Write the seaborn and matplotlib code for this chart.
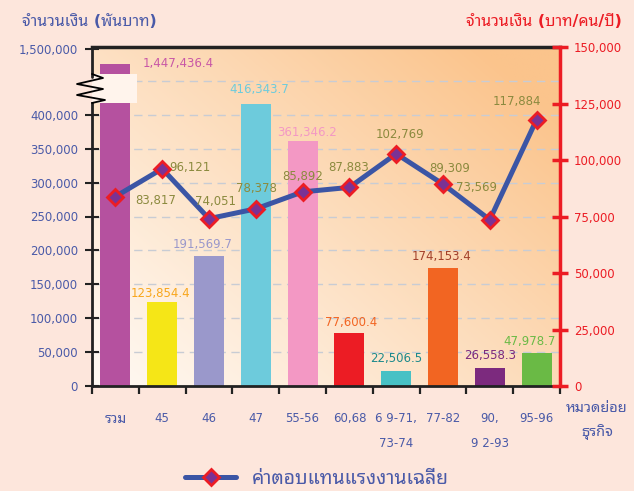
import numpy as np
import pandas as pd
import matplotlib
matplotlib.use('Agg')
import matplotlib.pyplot as plt
import seaborn as sns
from matplotlib.colors import to_rgb
from matplotlib.patches import Rectangle

# ข้อมูล
categories = ['รวม', '45', '46', '47', '55-56', '60,68', '6 9-71,\n73-74', '77-82', '90,\n9 2-93', '95-96']
amount = [1447436.4, 123854.4, 191569.7, 416343.7, 361346.2, 77600.4, 22506.5, 174153.4, 26558.3, 47978.7]
amount_labels = ['1,447,436.4', '123,854.4', '191,569.7', '416,343.7', '361,346.2',
                 '77,600.4', '22,506.5', '174,153.4', '26,558.3', '47,978.7']
wage = [83817, 96121, 74051, 78378, 85892, 87883, 102769, 89309, 73569, 117884]
wage_labels = ['83,817', '96,121', '74,051', '78,378', '85,892', '87,883', '102,769', '89,309', '73,569', '117,884']
left_ticks = [0, 50000, 100000, 150000, 200000, 250000, 300000, 350000, 400000, 1500000]
left_ticklabels = ['0', '50,000', '100,000', '150,000', '200,000', '250,000', '300,000', '350,000', '400,000', '1,500,000']
right_ticks = [0, 25000, 50000, 75000, 100000, 125000, 150000]
right_ticklabels = ['0', '25,000', '50,000', '75,000', '100,000', '125,000', '150,000']

bar_colors = ['#b5519f', '#f5e617', '#9a98cb', '#6dcbdc', '#f398c4', '#ec1c24', '#47c1c5', '#f26522', '#7c2a7e', '#6aba45']
label_colors = ['#c857a6', '#f8a61c', '#9a98cb', '#6dcbdc', '#f398c4', '#f26522', '#1d8a8c', '#a3402b', '#7c2a7e', '#6aba45']
bar_offsets = [(12, 0), (-2, 9), (-6, 12), (3, 14), (4, 9), (2, 11), (0, 12), (-1, 11), (0, 12), (-7, 12)]
line_offsets = [(40, -4), (28, 1), (6, 17), (1, 20), (0, 15), (-1, 20), (4, 19), (7, 16), (-13, 32), (-20, 18)]

BLUE = '#4a5aa8'
RED = '#ec1c24'

sns.set_style('ticks')
plt.rcParams['font.family'] = ['DejaVu Sans', 'Noto Sans Thai Looped']


# แกนซ้ายแบบตัดช่วง (ช่วง 420,000 - 1,400,000 ถูกบีบ)
def fwd(v):
    v = np.asarray(v, dtype=float)
    return np.where(v <= 420000, v,
                    np.where(v <= 1400000, 420000 + (v - 420000) * 36000 / 980000,
                             456000 + (v - 1400000) * 0.41))


def inv(m):
    m = np.asarray(m, dtype=float)
    return np.where(m <= 420000, m,
                    np.where(m <= 456000, 420000 + (m - 420000) * 980000 / 36000,
                             1400000 + (m - 456000) / 0.41))


fig = plt.figure(figsize=(6.34, 4.91), dpi=100, facecolor='#fde6dc')
rect = [92 / 634, 1 - 386 / 491, 468 / 634, 339 / 491]

# พื้นหลังไล่สี
bg = fig.add_axes(rect, zorder=0)
xx, yy = np.meshgrid(np.linspace(0, 1, 200), np.linspace(0, 1, 200))
t = np.clip(0.6 * xx + 0.5 * yy, 0, 1) ** 1.1
c0 = np.array(to_rgb('#fff9f3'))
c1 = np.array(to_rgb('#fbc48c'))
bg.imshow(c0 + (c1 - c0) * t[..., None], origin='lower', extent=[0, 1, 0, 1], aspect='auto')
bg.axis('off')

ax = fig.add_axes(rect, zorder=1)
ax.set_facecolor('none')

for f in np.arange(1, 10) / 10:
    ax.plot([0, 1], [f, f], transform=ax.transAxes, color='#c8ccd4', lw=1, dashes=(6, 4), zorder=0.5)

df = pd.DataFrame({'cat': categories, 'amount': amount})
sns.barplot(data=df, x='cat', y='amount', hue='cat', palette=dict(zip(categories, bar_colors)),
            legend=False, width=0.64, saturation=1, linewidth=0, edgecolor='none', ax=ax, zorder=2)
ax.set_yscale('function', functions=(fwd, inv))
ax.set_ylim(0, float(inv(500000)))
ax.set_xlim(-0.5, 9.5)

# ช่องว่างของแท่งที่ถูกตัด
ax.add_patch(Rectangle((-0.5, 418000), 0.97, 1410000 - 418000, facecolor='#fff4ec',
                       edgecolor='none', zorder=3))

for i, (v, s) in enumerate(zip(amount, amount_labels)):
    if i == 0:
        ax.annotate(s, (0.32, v), xytext=bar_offsets[i], textcoords='offset pixels',
                    ha='left', va='center', fontsize=8.5, color=label_colors[i], zorder=6)
    else:
        ax.annotate(s, (i, v), xytext=bar_offsets[i], textcoords='offset pixels',
                    ha='center', va='center', fontsize=8.5, color=label_colors[i], zorder=6)

ax.set_yticks(left_ticks)
ax.set_yticklabels(left_ticklabels)
ax.set_xticks(range(len(categories)))
ax.set_xticklabels(categories)
ax.set_xticks(np.arange(-0.5, len(categories), 1), minor=True)
ax.tick_params(axis='x', which='major', length=0, pad=19, labelsize=8.5, labelcolor=BLUE)
ax.tick_params(axis='x', which='minor', length=6, width=1.6, color='#222222', direction='out')
ax.tick_params(axis='y', which='major', direction='inout', length=10, width=1.5,
               color='#222222', labelsize=8.5, labelcolor=BLUE, pad=5)
ax.tick_params(axis='y', which='minor', length=0)
for lbl in ax.get_xticklabels():
    lbl.set_linespacing(2.2)
ax.get_xticklabels()[0].set_fontsize(10)
ax.set_xlabel('')
ax.set_ylabel('')

for side in ['left', 'bottom', 'top']:
    ax.spines[side].set_color('#222222')
    ax.spines[side].set_linewidth(2)
ax.spines['top'].set_linewidth(2.5)
ax.spines['right'].set_visible(False)
ax.spines['left'].set_bounds(0, 418000)
ax.plot([-0.5, -0.5], [1400000, float(inv(500000))], color='#222222', lw=2, clip_on=False, zorder=5)

# เส้นหยักแสดงการตัดแกน
zz = [(0, 74), (11, 78), (-15, 84), (11, 89), (-15, 95), (13, 100), (0, 103)]
ax.plot([dx / 468 for dx, _ in zz], [(386 - y) / 339 for _, y in zz], transform=ax.transAxes,
        color='black', lw=1.3, clip_on=False, zorder=6)

# แกนขวา: ค่าตอบแทนแรงงานเฉลี่ย
ax2 = ax.twinx()
sns.lineplot(x=np.arange(len(wage)), y=wage, ax=ax2, color='#3b55a5', lw=3.6, marker='D',
             markersize=8, markerfacecolor='#7b3294', markeredgecolor=RED, markeredgewidth=2,
             legend=False, zorder=4)
ax2.set_ylim(0, 150000)
ax2.set_xlim(-0.5, 9.5)
ax2.set_yticks(right_ticks)
ax2.set_yticklabels(right_ticklabels)
ax2.tick_params(axis='y', direction='inout', length=12, width=2.5, color=RED,
                labelcolor=RED, labelsize=8.5, pad=4)
for side in ['left', 'bottom', 'top']:
    ax2.spines[side].set_visible(False)
ax2.spines['right'].set_color(RED)
ax2.spines['right'].set_linewidth(2.5)
ax2.set_ylabel('')

for i, (v, s) in enumerate(zip(wage, wage_labels)):
    ax2.annotate(s, (i, v), xytext=line_offsets[i], textcoords='offset pixels',
                 ha='center', va='center', fontsize=8.5, color='#8b8a3e', zorder=6)

fig.text(22 / 634, 1 - 22 / 491, 'จำนวนเงิน (พันบาท)', ha='left', va='center',
         fontsize=11.5, fontweight='semibold', color=BLUE)
fig.text(622 / 634, 1 - 22 / 491, 'จำนวนเงิน (บาท/คน/ปี)', ha='right', va='center',
         fontsize=11.5, fontweight='semibold', color=RED)
fig.text(597 / 634, 1 - 407 / 491, 'หมวดย่อย', ha='center', va='center',
         fontsize=10.5, fontweight='bold', color=BLUE)
fig.text(597 / 634, 1 - 432 / 491, 'ธุรกิจ', ha='center', va='center',
         fontsize=10.5, fontweight='bold', color=BLUE)

handle = ax2.get_lines()[0]
fig.legend([handle], ['ค่าตอบแทนแรงงานเฉลี่ย'], loc='center', bbox_to_anchor=(0.5, 1 - 478 / 491),
           frameon=False, fontsize=14, handlelength=2.6, labelcolor=BLUE, numpoints=1)

fig.savefig('out.png', dpi=100, facecolor=fig.get_facecolor())
